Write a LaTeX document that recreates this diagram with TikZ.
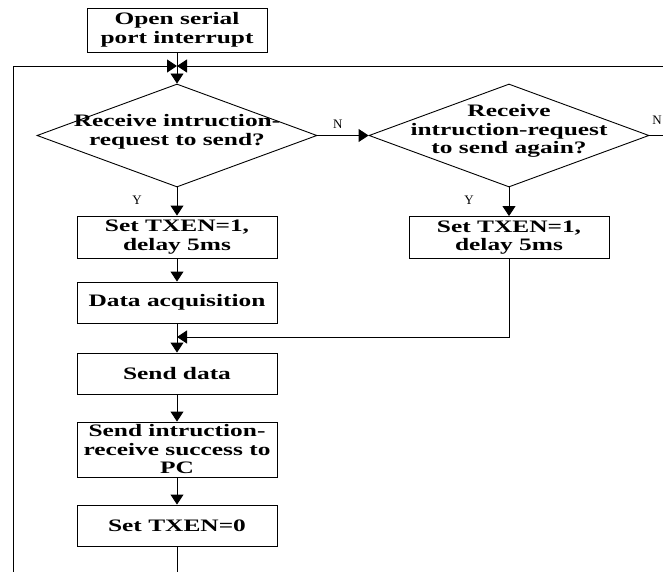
\documentclass[tikz,border=0pt]{standalone}
\usepackage{fontspec}
\setmainfont{Liberation Serif}
\newfontfamily\boxfont{Liberation Serif}[FakeStretch=1.45]
\usetikzlibrary{arrows.meta,shapes.geometric}
\begin{document}
\begin{tikzpicture}[x=1pt,y=-1pt,
  proc/.style={draw,line width=0.9pt,minimum width=200pt,inner sep=0pt,align=center,
    font=\boxfont\bfseries\fontsize{17.5}{18.5}\selectfont},
  dec/.style={draw,line width=0.9pt,diamond,minimum width=280pt,minimum height=103pt,inner sep=0pt},
  dectext/.style={align=center,font=\boxfont\bfseries\fontsize{17.5}{18.5}\selectfont},
  lbl/.style={font=\fontsize{13}{14}\selectfont},
  ln/.style={line width=0.9pt},
  arr/.style={ln,-{Triangle[length=10pt,width=13pt]}}]
\useasboundingbox (0,0) rectangle (663,572);
\node[proc,minimum width=180pt,minimum height=44pt] (start) at (177,30) {Open serial\\port interrupt};
\coordinate (j) at (177,66);
\coordinate (lt) at (13,66);
\coordinate (lb) at (13,572);
\coordinate (rt) at (663,66);
\node[dec] (d1) at (177,135.5) {};
\node[dectext] (t1) at (177,132) {Receive intruction-\\request to send?};
\node[dec] (d2) at (509,135.5) {};
\node[dectext] (t2) at (509,131) {Receive\\intruction-request\\to send again?};
\coordinate (r2) at (663,135.5);
\node[proc,minimum height=42pt] (b1) at (177,237) {Set TXEN=1,\\delay 5ms};
\node[proc,minimum height=42pt] (b6) at (509,237.5) {Set TXEN=1,\\delay 5ms};
\node[proc,minimum height=41pt] (b2) at (177,302.5) {Data acquisition};
\coordinate (m) at (177,337);
\coordinate (c6) at (509,337);
\node[proc,minimum height=41pt] (b3) at (177,373.5) {Send data};
\node[proc,minimum height=55pt] (b4) at (177,449.5) {Send intruction-\\receive success to\\PC};
\node[proc,minimum height=41pt] (b5) at (177,525.5) {Set TXEN=0};
\coordinate (bot) at (177,572);
% connectors
\draw[arr] (start.south) -- (d1.north);
\draw[arr] (lb) -- (lt) -- (j);
\draw[arr] (rt) -- (j);
\draw[arr] (d1.east) -- node[lbl,above=3pt,pos=0.4]{N} (d2.west);
\draw[ln] (d2.east) -- (r2);
\node[lbl] (n2) at (657,120) {N};
\draw[arr] (d1.south) -- (b1.north);
\node[lbl] (y1) at (137,200) {Y};
\draw[arr] (d2.south) -- (b6.north);
\node[lbl] (y2) at (469,200) {Y};
\draw[arr] (b1.south) -- (b2.north);
\draw[ln] (b2.south) -- (m);
\draw[arr] (b6.south) -- (c6) -- (m);
\draw[arr] (m) -- (b3.north);
\draw[arr] (b3.south) -- (b4.north);
\draw[arr] (b4.south) -- (b5.north);
\draw[ln] (b5.south) -- (bot);
\end{tikzpicture}
\end{document}
